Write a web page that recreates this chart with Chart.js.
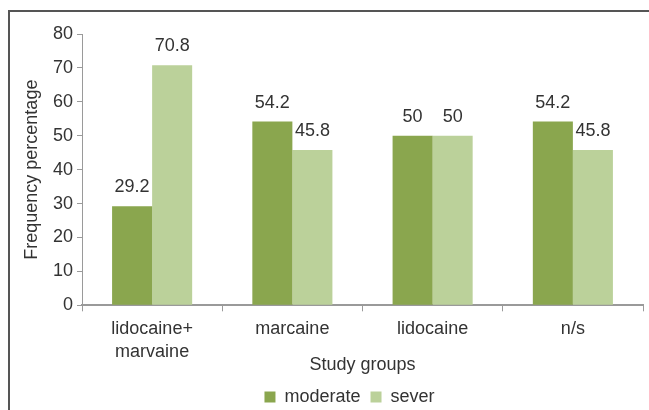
<!DOCTYPE html>
<html lang="en">
<head>
    <meta charset="UTF-8">
    <title>Frequency percentage by study group</title>
    <script src="https://cdn.jsdelivr.net/npm/chart.js"></script>
    <style>
        body { margin: 0; background: #fff; }
        #wrap { width: 649px; height: 410px; position: relative; }
    </style>
</head>
<body>
    <div id="wrap">
        <canvas id="myChart" width="649" height="410"></canvas>
    </div>
    <script>
    // Data
    const groups = [['lidocaine+', 'marvaine'], 'marcaine', 'lidocaine', 'n/s'];
    const moderate = [29.2, 54.2, 50, 54.2];
    const sever = [70.8, 45.8, 50, 45.8];
    const yTicks = [0, 10, 20, 30, 40, 50, 60, 70, 80];

    const darkGreen = '#8aa64e';
    const lightGreen = '#bbd19a';
    const axisGray = '#9a9a9a';
    const textColor = '#333333';
    const fontFamily = '"Liberation Sans", Arial, sans-serif';

    // frame round the figure (left and top only)
    const framePlugin = {
        id: 'frame',
        beforeDraw(chart) {
            const ctx = chart.ctx;
            ctx.save();
            ctx.fillStyle = '#fff';
            ctx.fillRect(0, 0, chart.width, chart.height);
            ctx.strokeStyle = '#555';
            ctx.lineWidth = 2;
            ctx.beginPath();
            ctx.moveTo(9, chart.height);
            ctx.lineTo(9, 11);
            ctx.lineTo(chart.width, 11);
            ctx.stroke();
            ctx.restore();
        },
        // legend sits a bit right of the page centre in the original
        afterLayout(chart) {
            chart.legend.left += 22;
            chart.legend.right += 22;
        }
    };

    // value labels above bars
    const valueLabels = {
        id: 'valueLabels',
        afterDatasetsDraw(chart) {
            const ctx = chart.ctx;
            ctx.save();
            ctx.font = '18px ' + fontFamily;
            ctx.fillStyle = textColor;
            ctx.textAlign = 'center';
            ctx.textBaseline = 'alphabetic';
            chart.data.datasets.forEach((ds, i) => {
                chart.getDatasetMeta(i).data.forEach((bar, j) => {
                    ctx.fillText(String(ds.data[j]), bar.x, bar.y - 14);
                });
            });
            ctx.restore();
        }
    };

    const ctx = document.getElementById('myChart').getContext('2d');
    const myChart = new Chart(ctx, {
        type: 'bar',
        data: {
            labels: groups,
            datasets: [
                { label: 'moderate', data: moderate, backgroundColor: darkGreen },
                { label: 'sever', data: sever, backgroundColor: lightGreen }
            ]
        },
        options: {
            responsive: false,
            animation: false,
            devicePixelRatio: 1,
            datasets: {
                bar: { categoryPercentage: 0.571, barPercentage: 1.0 }
            },
            layout: {
                padding: { left: 12, right: 6, top: 34, bottom: -6 }
            },
            scales: {
                x: {
                    grid: { offset: true, drawOnChartArea: false, drawTicks: true, tickLength: 6, color: axisGray },
                    border: { color: axisGray, width: 2 },
                    ticks: { color: textColor, font: { size: 18, family: fontFamily, lineHeight: 1.28 }, padding: 6 },
                    title: { display: true, text: 'Study groups', color: textColor, font: { size: 18, family: fontFamily }, padding: { top: -15, bottom: 2 } }
                },
                y: {
                    min: 0,
                    max: 80,
                    afterBuildTicks(axis) { axis.ticks = yTicks.map(v => ({ value: v })); },
                    afterFit(axis) { axis.width = 70; },
                    grid: { drawOnChartArea: false, drawTicks: true, tickLength: 5, color: axisGray },
                    border: { color: axisGray, width: 1 },
                    ticks: { color: textColor, font: { size: 18, family: fontFamily }, padding: 4 },
                    title: { display: true, text: 'Frequency percentage', color: textColor, font: { size: 18, family: fontFamily }, padding: 9 }
                }
            },
            plugins: {
                legend: {
                    position: 'bottom',
                    labels: { boxWidth: 11, boxHeight: 11, color: textColor, font: { size: 18, family: fontFamily }, padding: 10 }
                },
                tooltip: { enabled: false }
            }
        },
        plugins: [framePlugin, valueLabels]
    });
    </script>
</body>
</html>
